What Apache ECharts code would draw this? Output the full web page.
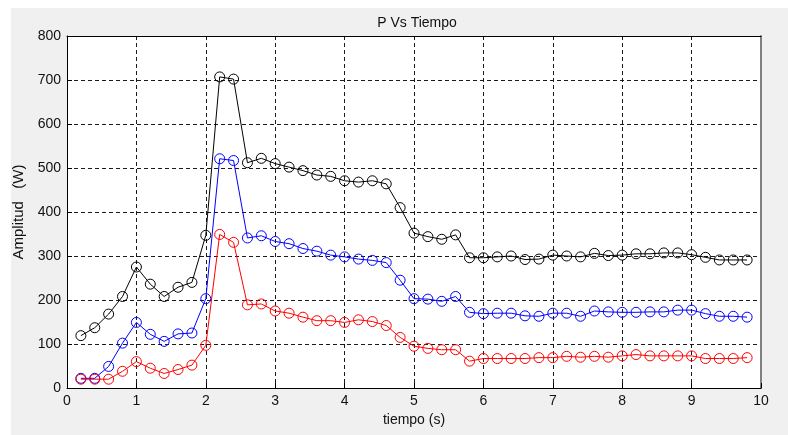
<!DOCTYPE html>
<html>
<head>
<meta charset="utf-8">
<script src="https://cdn.jsdelivr.net/npm/echarts@6/dist/echarts.min.js"></script>
<style>
  html, body { margin: 0; padding: 0; background: #ffffff; }
  #panel { position: absolute; left: 11px; top: 8px; width: 777px; height: 427px; background: #f0f0f0; }
  #chart { position: absolute; left: 0; top: 0; width: 788px; height: 435px; }
</style>
</head>
<body>
<div id="panel"></div>
<div id="chart"></div>
<script>
// Sample times (s)
const tiempo = [0.2, 0.4, 0.6, 0.8, 1.0, 1.2, 1.4, 1.6, 1.8, 2.0,
                2.2, 2.4, 2.6, 2.8, 3.0, 3.2, 3.4, 3.6, 3.8, 4.0,
                4.2, 4.4, 4.6, 4.8, 5.0, 5.2, 5.4, 5.6, 5.8, 6.0,
                6.2, 6.4, 6.6, 6.8, 7.0, 7.2, 7.4, 7.6, 7.8, 8.0,
                8.2, 8.4, 8.6, 8.8, 9.0, 9.2, 9.4, 9.6, 9.8];

// Power (W), black trace
const potenciaNegra = [119, 137, 168, 208, 275, 236, 208, 229, 240, 347,
                       707, 702, 512, 522, 510, 502, 494, 484, 481, 471,
                       468, 471, 464, 410, 352, 344, 338, 348, 296, 296,
                       298, 300, 292, 293, 302, 300, 298, 306, 301, 302,
                       305, 305, 307, 307, 303, 297, 291, 291, 291];

// Power (W), blue trace
const potenciaAzul = [22, 22, 49, 102, 149, 122, 106, 123, 125, 203,
                      521, 517, 341, 346, 333, 328, 317, 311, 302, 298,
                      293, 290, 285, 245, 203, 202, 197, 208, 172, 169,
                      170, 170, 164, 163, 170, 170, 163, 175, 173, 172,
                      172, 173, 173, 177, 177, 169, 163, 163, 161];

// Power (W), red trace
const potenciaRoja = [20, 20, 20, 38, 60, 45, 33, 42, 52, 97,
                      349, 331, 189, 191, 175, 170, 161, 153, 153, 149,
                      155, 151, 142, 115, 95, 90, 87, 87, 61, 67,
                      67, 67, 67, 69, 69, 72, 70, 72, 70, 73,
                      76, 73, 73, 73, 73, 67, 67, 67, 69];

// Axis ticks
const xTicks = [0, 1, 2, 3, 4, 5, 6, 7, 8, 9, 10];
const yTicks = [0, 100, 200, 300, 400, 500, 600, 700, 800];

const font = 'Liberation Sans, Arial, sans-serif';

function pares(ys) {
  return tiempo.map((t, i) => [t, ys[i]]);
}

function traza(nombre, ys, color) {
  return {
    name: nombre,
    type: 'line',
    data: pares(ys),
    symbol: 'circle',
    symbolSize: 10,
    showSymbol: true,
    animation: false,
    lineStyle: { color: color, width: 1 },
    itemStyle: { color: 'rgba(0,0,0,0)', borderColor: color, borderWidth: 1 },
    emphasis: { disabled: true }
  };
}

const gridDash = { color: '#1a1a1a', width: 1, type: [4, 3] };

const chart = echarts.init(document.getElementById('chart'), null, { renderer: 'canvas' });
chart.setOption({
  backgroundColor: 'transparent',
  animation: false,
  title: {
    text: 'P Vs Tiempo',
    left: 412,
    top: 11,
    textAlign: 'center',
    textStyle: { fontFamily: font, fontSize: 14, fontWeight: 'normal', color: '#111' }
  },
  grid: {
    left: 67, top: 36, right: 27, bottom: 47,
    show: true, backgroundColor: '#ffffff', borderWidth: 0
  },
  xAxis: [{
    type: 'value',
    min: xTicks[0],
    max: xTicks[xTicks.length - 1],
    interval: 1,
    name: 'tiempo (s)',
    nameLocation: 'middle',
    nameGap: 23,
    nameTextStyle: { fontFamily: font, fontSize: 14, color: '#111' },
    axisLine: { show: true, onZero: false, lineStyle: { color: '#000', width: 1 } },
    axisTick: { show: true, inside: true, length: 5, lineStyle: { color: '#000' } },
    axisLabel: { fontFamily: font, fontSize: 14, color: '#111', margin: 6 },
    splitLine: { show: true, lineStyle: gridDash }
  }, {
    type: 'value',
    position: 'top',
    min: xTicks[0],
    max: xTicks[xTicks.length - 1],
    interval: 1,
    axisLine: { show: true, onZero: false, lineStyle: { color: '#000', width: 1 } },
    axisTick: { show: false },
    axisLabel: { show: false },
    splitLine: { show: false }
  }],
  yAxis: [{
    type: 'value',
    min: yTicks[0],
    max: yTicks[yTicks.length - 1],
    interval: 100,
    name: 'Amplitud   (W)',
    nameLocation: 'middle',
    nameGap: 35,
    nameTextStyle: { fontFamily: font, fontSize: 15, color: '#111' },
    axisLine: { show: true, onZero: false, lineStyle: { color: '#000', width: 1 } },
    axisTick: { show: true, inside: true, length: 5, lineStyle: { color: '#000' } },
    axisLabel: { fontFamily: font, fontSize: 14, color: '#111', margin: 6 },
    splitLine: { show: true, lineStyle: gridDash }
  }, {
    type: 'value',
    position: 'right',
    min: yTicks[0],
    max: yTicks[yTicks.length - 1],
    interval: 100,
    axisLine: { show: true, onZero: false, lineStyle: { color: '#808080', width: 2 } },
    axisTick: { show: false },
    axisLabel: { show: false },
    splitLine: { show: false }
  }],
  series: [
    traza('negra', potenciaNegra, '#000000'),
    traza('azul', potenciaAzul, '#0000ff'),
    traza('roja', potenciaRoja, '#ff0000')
  ]
});
</script>
</body>
</html>
